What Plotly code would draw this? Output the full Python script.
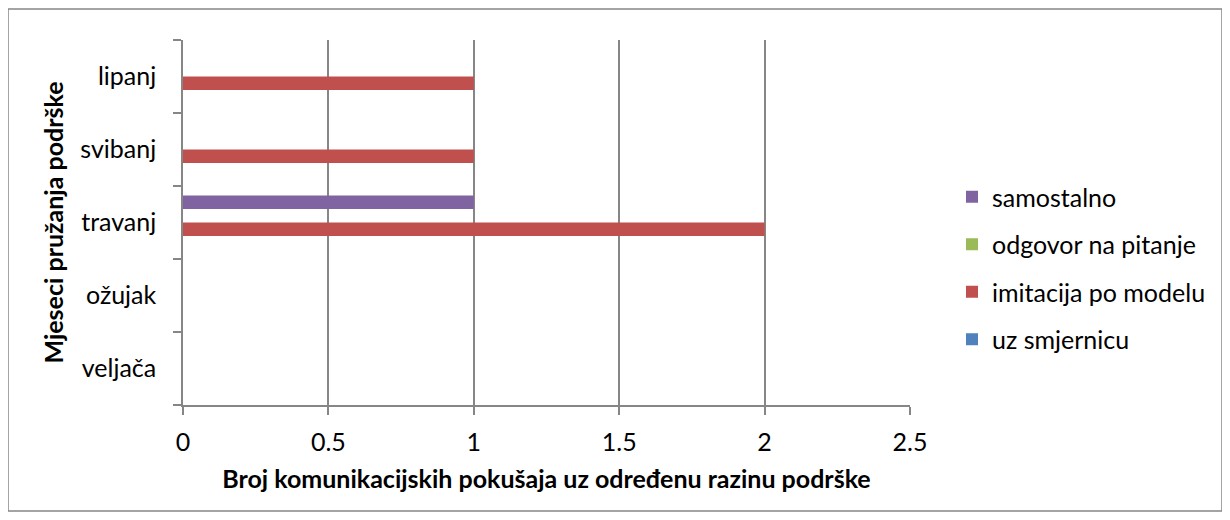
import plotly.graph_objects as go

# months on the category axis, bottom to top
months = ["veljača", "ožujak", "travanj", "svibanj", "lipanj"]

uz_smjernicu = [0, 0, 0, 0, 0]
imitacija_po_modelu = [0, 0, 2, 1, 1]
odgovor_na_pitanje = [0, 0, 0, 0, 0]
samostalno = [0, 0, 1, 0, 0]

x_ticks = [0, 0.5, 1, 1.5, 2, 2.5]

series = [
    ("uz smjernicu", uz_smjernicu, "#4F81BD"),
    ("imitacija po modelu", imitacija_po_modelu, "#C0504D"),
    ("odgovor na pitanje", odgovor_na_pitanje, "#9BBB59"),
    ("samostalno", samostalno, "#8064A2"),
]

FONT = "Lato, Calibri, 'Open Sans', sans-serif"
GRID = "#868686"
FS = 25

# the page body has an 8px margin, so the figure is drawn 8px smaller
OFF = 8
W, H = 1230 - OFF, 520 - OFF
L, R, T, B = 183 - OFF, 910 - OFF, 40 - OFF, 405 - OFF

fig = go.Figure()
for i, (name, vals, color) in enumerate(series):
    fig.add_trace(
        go.Bar(
            y=months,
            x=vals,
            name=name,
            orientation="h",
            marker=dict(color=color, line=dict(width=0)),
            legendgroup=name,
            legendrank=len(series) - i,
        )
    )

fig.update_layout(
    width=W,
    height=H,
    margin=dict(l=L, r=W - R, t=T, b=H - B),
    paper_bgcolor="white",
    plot_bgcolor="white",
    font=dict(family=FONT, size=FS, color="#000000"),
    barmode="group",
    bargap=0.26,
    bargroupgap=0,
    showlegend=True,
    legend=dict(
        traceorder="grouped",
        tracegroupgap=12,
        x=(952 - 183) / (910 - 183),
        xanchor="left",
        y=(405 - 268) / (405 - 40),
        yanchor="middle",
        font=dict(size=FS),
        bgcolor="rgba(0,0,0,0)",
    ),
    xaxis=dict(
        range=[0, 2.5],
        tickvals=x_ticks,
        showgrid=True,
        gridcolor=GRID,
        gridwidth=1.5,
        zeroline=False,
        showline=True,
        linecolor=GRID,
        linewidth=1.5,
        ticks="outside",
        ticklen=8,
        tickwidth=1.5,
        tickcolor=GRID,
        ticklabelstandoff=6,
        title=dict(
            text="<b>Broj komunikacijskih pokušaja uz određenu razinu podrške</b>",
            font=dict(size=FS),
            standoff=16,
        ),
        fixedrange=True,
    ),
    yaxis=dict(
        type="category",
        categoryorder="array",
        categoryarray=months,
        showgrid=False,
        zeroline=False,
        showline=True,
        linecolor=GRID,
        linewidth=1.5,
        ticks="outside",
        tickson="boundaries",
        ticklen=8,
        tickwidth=1.5,
        tickcolor=GRID,
        ticklabelstandoff=20,
        title=dict(
            text="<b>Mjeseci pružanja podrške</b>",
            font=dict(size=FS),
            standoff=10,
        ),
        fixedrange=True,
    ),
)

# outer chart frame
fig.add_shape(
    type="rect",
    xref="paper",
    yref="paper",
    x0=(8 - 183) / (910 - 183),
    x1=(1222 - 183) / (910 - 183),
    y0=(405 - 511) / (405 - 40),
    y1=(405 - 9) / (405 - 40),
    line=dict(color=GRID, width=1.5),
    fillcolor="rgba(0,0,0,0)",
    layer="below",
)

fig.write_html("out.html")
